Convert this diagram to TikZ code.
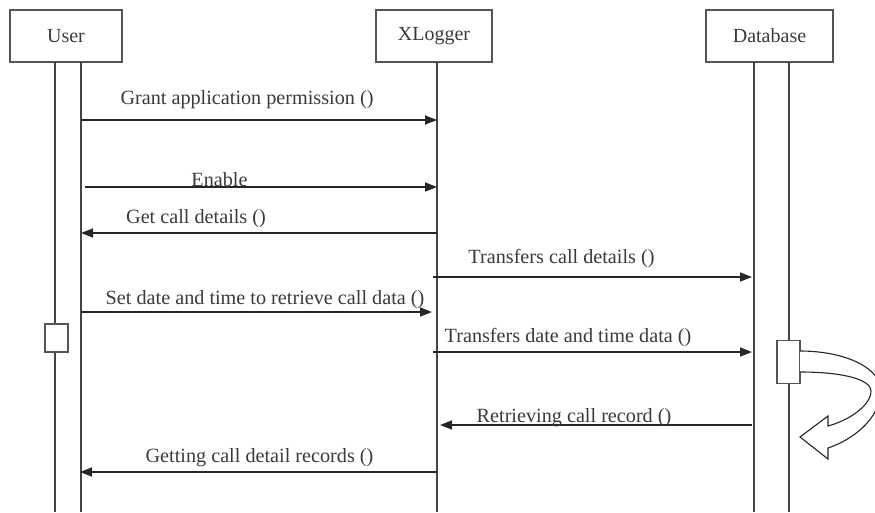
\documentclass[tikz,border=0pt]{standalone}
\usepackage{fontspec}
\setmainfont{Liberation Serif}
\usetikzlibrary{arrows.meta}
\definecolor{boxgray}{HTML}{555555}
\definecolor{linegray}{HTML}{444444}
\definecolor{txtgray}{HTML}{3A3A3A}
\begin{document}
\begin{tikzpicture}[x=1pt,y=-1pt,
  actor/.style={draw=boxgray,line width=1.8pt,fill=white,inner sep=0pt,font=\fontsize{20}{22}\selectfont,text=txtgray},
  life/.style={draw=linegray,line width=1.4pt},
  msg/.style={draw=black!85,line width=1.5pt,-{Triangle[length=12pt,width=9pt]}},
  lbl/.style={anchor=base,inner sep=0pt,font=\fontsize{20.2}{22}\selectfont,text=txtgray},
  act/.style={draw=boxgray,line width=1.5pt,fill=white,inner sep=0pt}]
\useasboundingbox (0,0) rectangle (875,512);
% actors
\node[actor,minimum width=112pt,minimum height=52pt] (user) at (66,36) {User};
\node[actor,minimum width=116pt,minimum height=52pt] (xlog) at (434,36) {XLogger};
\node[actor,minimum width=127pt,minimum height=52pt] (db) at (769.5,36) {Database};
% lifeline ends
\coordinate (uAt) at (55,62);  \coordinate (uAb) at (55,512);
\coordinate (uBt) at (81,62);  \coordinate (uBb) at (81,512);
\coordinate (xt) at (437,62);  \coordinate (xb) at (437,512);
\coordinate (dAt) at (754,62); \coordinate (dAb) at (754,512);
\coordinate (dBt) at (789,62); \coordinate (dBb) at (789,512);
\draw[life] (uAt) -- (uAb);
\draw[life] (uBt) -- (uBb);
\draw[life] (xt) -- (xb);
\draw[life] (dAt) -- (dAb);
\draw[life] (dBt) -- (dBb);
% activation boxes
\node[act,minimum width=23pt,minimum height=28pt] (uact) at (56.5,338) {};
\node[act,minimum width=23pt,minimum height=43pt] (dact) at (788.5,362) {};
% self call curved hollow arrow
\draw[draw=black!85,line width=1.1pt,fill=white,line join=miter]
  (800,351) .. controls (845,351) and (882,368) .. (881,392)
  .. controls (879,420) and (852,440) .. (828,448)
  -- (828,459) -- (800,437) -- (828,416) -- (828,426)
  .. controls (850,420) and (871,405) .. (871,391)
  .. controls (871,380) and (845,372) .. (800,372);
% message endpoints
\coordinate (m1a) at (81,120);  \coordinate (m1b) at (437,120);
\coordinate (m2a) at (85,187);  \coordinate (m2b) at (437,187);
\coordinate (m3a) at (437,233); \coordinate (m3b) at (81,233);
\coordinate (m4a) at (433,277); \coordinate (m4b) at (752,277);
\coordinate (m5a) at (81,312);  \coordinate (m5b) at (432,312);
\coordinate (m6a) at (433,352); \coordinate (m6b) at (752,352);
\coordinate (m7a) at (752,425); \coordinate (m7b) at (440,425);
\coordinate (m8a) at (437,472); \coordinate (m8b) at (80,472);
\draw[msg] (m1a) -- (m1b);
\draw[msg] (m2a) -- (m2b);
\draw[msg] (m3a) -- (m3b);
\draw[msg] (m4a) -- (m4b);
\draw[msg] (m5a) -- (m5b);
\draw[msg] (m6a) -- (m6b);
\draw[msg] (m7a) -- (m7b);
\draw[msg] (m8a) -- (m8b);
% labels
\node[lbl] (l1) at (247,104) {Grant application permission ()};
\node[lbl] (l2) at (219.5,186) {Enable};
\node[lbl] (l3) at (196,223) {Get call details ()};
\node[lbl] (l4) at (561.5,263) {Transfers call details ()};
\node[lbl] (l5) at (265,304) {Set date and time to retrieve call data ()};
\node[lbl] (l6) at (568,342) {Transfers date and time data ()};
\node[lbl] (l7) at (574,422) {Retrieving call record ()};
\node[lbl] (l8) at (259.5,462) {Getting call detail records ()};
\end{tikzpicture}
\end{document}
